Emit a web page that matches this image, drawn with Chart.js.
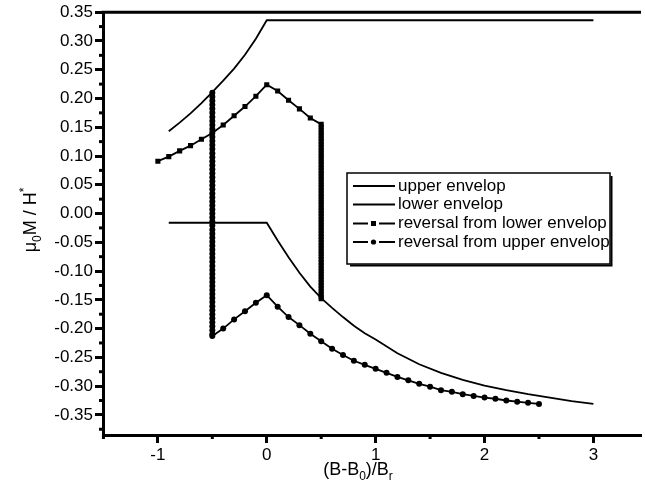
<!DOCTYPE html>
<html><head><meta charset="utf-8">
<script src="https://cdn.jsdelivr.net/npm/chart.js@4/dist/chart.umd.min.js"></script>
<style>html,body{margin:0;padding:0;background:#fff;overflow:hidden}canvas{display:block}</style>
</head><body>
<canvas id="c" width="645" height="495"></canvas>
<script>
// ---- tick labels ----
const xTicks = [-1, 0, 1, 2, 3];
const xMinorTicks = [-1.5, -0.5, 0.5, 1.5, 2.5];
const yTicks = [-0.35, -0.30, -0.25, -0.20, -0.15, -0.10, -0.05, 0, 0.05, 0.10, 0.15, 0.20, 0.25, 0.30, 0.35];
const yMinorTicks = [-0.375, -0.325, -0.275, -0.225, -0.175, -0.125, -0.075, -0.025, 0.025, 0.075, 0.125, 0.175, 0.225, 0.275, 0.325];

// ---- series labels ----
const seriesLabels = ['upper envelop', 'lower envelop', 'reversal from lower envelop', 'reversal from upper envelop'];

// ---- upper envelope ----
const upperEnvX = [-0.9, -0.8, -0.7, -0.6, -0.5, -0.4, -0.3, -0.2, -0.1, 0, 3];
const upperEnvY = [0.143, 0.158, 0.174, 0.192, 0.211, 0.231, 0.252, 0.276, 0.304, 0.336, 0.336];

// ---- lower envelope ----
const lowerEnvX = [-0.9, 0, 0.1, 0.2, 0.3, 0.4, 0.5, 0.6, 0.7, 0.8, 0.9, 1.0, 1.2, 1.4, 1.6, 1.8, 2.0, 2.2, 2.4, 2.6, 2.8, 3.0];
const lowerEnvY = [-0.016, -0.016, -0.047, -0.076, -0.103, -0.127, -0.147, -0.164, -0.180, -0.195, -0.208, -0.219, -0.243, -0.262, -0.277, -0.289, -0.299, -0.307, -0.314, -0.320, -0.326, -0.331];

// ---- reversal from lower envelope (squares) ----
const revLowerX = [-1, -0.9, -0.8, -0.7, -0.6, -0.5, -0.4, -0.3, -0.2, -0.1, 0, 0.1, 0.2, 0.3, 0.4, 0.5];
const revLowerY = [0.091, 0.099, 0.109, 0.118, 0.129, 0.140, 0.154, 0.170, 0.186, 0.204, 0.224, 0.213, 0.197, 0.182, 0.166, 0.155];
// vertical drop at B = 0.5 down to the lower envelope
const revLowerDropX = 0.5;
const revLowerDropY = [0.15, 0.145, 0.14, 0.135, 0.13, 0.125, 0.12, 0.115, 0.11, 0.105, 0.1, 0.095, 0.09, 0.085, 0.08,
  0.075, 0.07, 0.065, 0.06, 0.055, 0.05, 0.045, 0.04, 0.035, 0.03, 0.025, 0.02, 0.015, 0.01, 0.005, 0,
  -0.005, -0.01, -0.015, -0.02, -0.025, -0.03, -0.035, -0.04, -0.045, -0.05, -0.055, -0.06, -0.065, -0.07,
  -0.075, -0.08, -0.085, -0.09, -0.095, -0.1, -0.105, -0.11, -0.115, -0.12, -0.125, -0.13, -0.135, -0.14, -0.145, -0.148];

// ---- reversal from upper envelope (circles) ----
// vertical drop at B = -0.5 from the upper envelope
const revUpperDropX = -0.5;
const revUpperDropY = [0.21, 0.203, 0.196, 0.189, 0.182, 0.175, 0.168, 0.161, 0.154, 0.147, 0.14, 0.133, 0.126, 0.119, 0.112,
  0.105, 0.098, 0.091, 0.084, 0.077, 0.07, 0.063, 0.056, 0.049, 0.042, 0.035, 0.028, 0.021, 0.014, 0.007, 0,
  -0.007, -0.014, -0.021, -0.028, -0.035, -0.042, -0.049, -0.056, -0.063, -0.07, -0.077, -0.084, -0.091, -0.098,
  -0.105, -0.112, -0.119, -0.126, -0.133, -0.14, -0.147, -0.154, -0.161, -0.168, -0.175, -0.182, -0.189, -0.196,
  -0.203, -0.21, -0.213];
const revUpperX = [-0.4, -0.3, -0.2, -0.1, 0, 0.1, 0.2, 0.3, 0.4, 0.5, 0.6, 0.7, 0.8, 0.9, 1.0,
  1.1, 1.2, 1.3, 1.4, 1.5, 1.6, 1.7, 1.8, 1.9, 2.0, 2.1, 2.2, 2.3, 2.4, 2.5];
const revUpperY = [-0.200, -0.184, -0.170, -0.155, -0.142, -0.162, -0.180, -0.194, -0.209, -0.222, -0.235, -0.246, -0.256, -0.263, -0.270,
  -0.277, -0.284, -0.290, -0.296, -0.301, -0.307, -0.310, -0.314, -0.317, -0.320, -0.322, -0.325, -0.327, -0.329, -0.331];

const toPts = (xs, ys) => xs.map((x, i) => ({x: x, y: ys[i]}));
const dropPts = (x, ys) => ys.map(y => ({x: x, y: y}));
const FONT = "'Liberation Sans', Arial, Helvetica, sans-serif";
Chart.defaults.font.family = FONT;
Chart.defaults.color = '#000';

function drawRich(ctx, parts, x, y, size) {
  const small = Math.round(size * 0.65);
  let total = 0;
  parts.forEach(p => { ctx.font = (p[1] === 'n' ? size : small) + 'px ' + FONT; total += ctx.measureText(p[0]).width; });
  let cx = x - total / 2;
  ctx.textAlign = 'left'; ctx.textBaseline = 'alphabetic';
  parts.forEach(p => {
    ctx.font = (p[1] === 'n' ? size : small) + 'px ' + FONT;
    const dy = p[1] === 'sub' ? size * 0.3 : (p[1] === 'sup' ? -size * 0.45 : 0);
    ctx.fillText(p[0], cx, y + dy);
    cx += ctx.measureText(p[0]).width;
  });
}

const decorPlugin = {
  id: 'decor',
  afterDraw(chart) {
    const {ctx, chartArea: a, scales: {x, y}} = chart;
    ctx.save();
    ctx.strokeStyle = '#000'; ctx.fillStyle = '#000';
    ctx.lineWidth = 3;
    ctx.beginPath(); ctx.moveTo(a.left - 1.5, a.top); ctx.lineTo(a.right, a.top); ctx.stroke();
    xMinorTicks.forEach(v => {
      const px = x.getPixelForValue(v);
      if (px < a.left - 2 || px > a.right) return;
      ctx.beginPath(); ctx.moveTo(px, a.bottom); ctx.lineTo(px, a.bottom + 4); ctx.stroke();
    });
    yMinorTicks.forEach(v => {
      const py = y.getPixelForValue(v);
      if (py < a.top || py > a.bottom + 2) return;
      ctx.beginPath(); ctx.moveTo(a.left, py); ctx.lineTo(a.left - 4, py); ctx.stroke();
    });
    drawRich(ctx, [['(B-B', 'n'], ['0', 'sub'], [')/B', 'n'], ['r', 'sub']], 358, 475, 18);
    ctx.save();
    ctx.translate(36, 220); ctx.rotate(-Math.PI / 2);
    drawRich(ctx, [['\u03bc', 'n'], ['0', 'sub'], ['M / H', 'n'], ['*', 'sup']], 0, 0, 18);
    ctx.restore();
    const L = 347, T = 173, R = 610, B = 264;
    ctx.fillStyle = '#fff'; ctx.fillRect(L, T, R - L, B - T); ctx.fillStyle = '#000';
    ctx.lineWidth = 1.5; ctx.strokeRect(L, T, R - L, B - T);
    ctx.lineWidth = 2;
    ctx.beginPath(); ctx.moveTo(L + 3, B + 1.5); ctx.lineTo(R + 1.5, B + 1.5); ctx.lineTo(R + 1.5, T + 3); ctx.stroke();
    const rows = [186, 204.5, 223.5, 242];
    chart.data.datasets.forEach((ds, i) => {
      if (i > 3) return;
      const ry = rows[i];
      ctx.lineWidth = 1.8;
      if (ds.pointRadius === 0) {
        ctx.beginPath(); ctx.moveTo(353, ry); ctx.lineTo(395, ry); ctx.stroke();
      } else {
        ctx.beginPath(); ctx.moveTo(353, ry); ctx.lineTo(368, ry); ctx.moveTo(379, ry); ctx.lineTo(395, ry); ctx.stroke();
        if (ds.pointStyle === 'rect') { ctx.fillRect(371, ry - 2.5, 5, 5); }
        else { ctx.beginPath(); ctx.arc(373.5, ry, 2.6, 0, Math.PI * 2); ctx.fill(); }
      }
      ctx.font = '17px ' + FONT; ctx.textAlign = 'left'; ctx.textBaseline = 'middle';
      ctx.fillText(ds.label, 398, ry);
    });
    ctx.restore();
  }
};

const sq = {borderColor: '#000', borderWidth: 1.8, pointStyle: 'rect', pointRadius: 3.6, pointBackgroundColor: '#000', pointBorderColor: '#000', pointBorderWidth: 0, tension: 0, showLine: true};
const ci = {borderColor: '#000', borderWidth: 1.8, pointStyle: 'circle', pointRadius: 3, pointBackgroundColor: '#000', pointBorderColor: '#000', pointBorderWidth: 0, tension: 0, showLine: true};

new Chart(document.getElementById('c'), {
  type: 'scatter',
  data: {
    datasets: [
      {label: seriesLabels[0], data: toPts(upperEnvX, upperEnvY), showLine: true, borderColor: '#000', borderWidth: 1.8, pointRadius: 0, tension: 0},
      {label: seriesLabels[1], data: toPts(lowerEnvX, lowerEnvY), showLine: true, borderColor: '#000', borderWidth: 1.8, pointRadius: 0, tension: 0},
      Object.assign({label: seriesLabels[2], data: toPts(revLowerX, revLowerY).concat(dropPts(revLowerDropX, revLowerDropY))}, sq),
      Object.assign({label: seriesLabels[3], data: dropPts(revUpperDropX, revUpperDropY).concat(toPts(revUpperX, revUpperY))}, ci)
    ]
  },
  options: {
    responsive: false,
    animation: false,
    layout: {padding: {top: 11, right: 0, left: 0, bottom: 0}},
    plugins: {legend: {display: false}, tooltip: {enabled: false}},
    scales: {
      x: {
        type: 'linear', min: -1.504, max: 3.437,
        afterBuildTicks: s => { s.ticks = xTicks.map(v => ({value: v})); },
        afterFit: s => { s.height = 60; },
        ticks: {callback: v => String(v), color: '#000', font: {size: 17}, padding: 2, maxRotation: 0, autoSkip: false},
        grid: {drawOnChartArea: false, drawTicks: true, tickLength: 8, tickWidth: 3, tickColor: '#000'},
        border: {display: true, color: '#000', width: 3}
      },
      y: {
        type: 'linear', min: -0.385, max: 0.35,
        afterBuildTicks: s => { s.ticks = yTicks.map(v => ({value: v})); },
        afterFit: s => { s.width = 103; },
        ticks: {callback: v => v.toFixed(2), color: '#000', font: {size: 17}, padding: 2, autoSkip: false},
        grid: {drawOnChartArea: false, drawTicks: true, tickLength: 8, tickWidth: 3, tickColor: '#000'},
        border: {display: true, color: '#000', width: 3}
      }
    }
  },
  plugins: [decorPlugin]
});
</script>
</body></html>
